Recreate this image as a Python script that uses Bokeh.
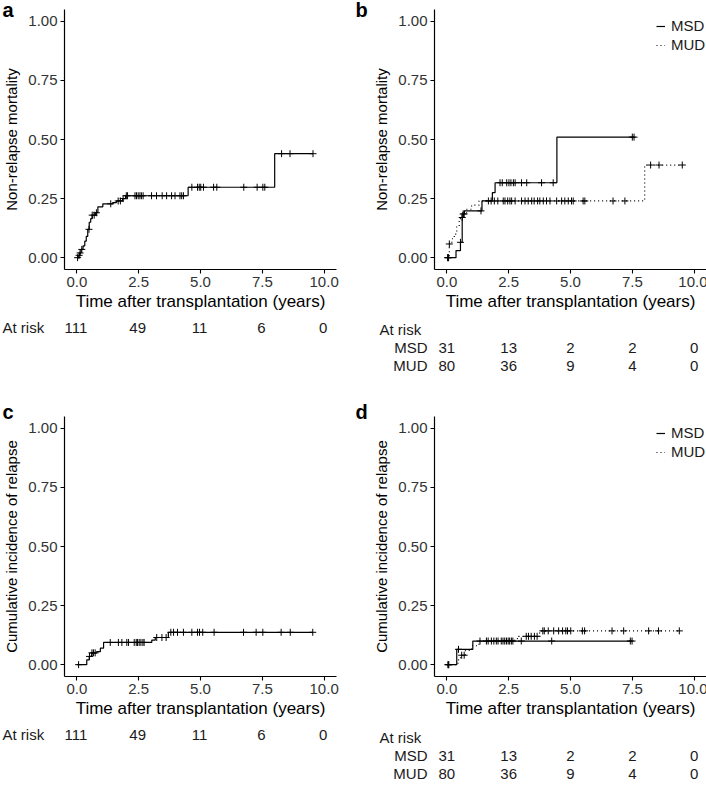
import numpy as np
from bokeh.plotting import figure
from bokeh.models import FixedTicker, PrintfTickFormatter, Title, Range1d, Legend, LegendItem
from bokeh.core.properties import value
from bokeh.layouts import column, row
from bokeh.embed import file_html
from bokeh.resources import INLINE

# ---------------- data ----------------
x_ticks = [0, 2.5, 5, 7.5, 10]
y_ticks = [0, 0.25, 0.5, 0.75, 1.0]
risk_times = [0, 2.5, 5, 7.5, 10]

# Panel a: NRM, all patients
a_t = [0, 0.08, 0.12, 0.17, 0.25, 0.32, 0.38, 0.44, 0.5, 0.56, 0.62, 0.75, 0.85, 1.05, 1.45, 1.6, 1.85, 1.97, 4.5, 8.0, 9.55]
a_y = [0, 0.01, 0.02, 0.035, 0.05, 0.07, 0.09, 0.12, 0.15, 0.165, 0.18, 0.19, 0.215, 0.228, 0.233, 0.24, 0.25, 0.262, 0.298, 0.44, 0.44]
a_cens = [0.03, 0.09, 0.13, 0.2, 0.49, 0.62, 0.7, 0.79, 1.37, 1.67, 1.76, 1.87, 2.0, 2.05, 2.35, 2.41, 2.48, 2.55,
          2.61, 2.68, 3.02, 3.22, 3.45, 3.63, 3.83, 3.97, 4.17, 4.24, 4.31, 4.65, 4.88, 4.95, 5.01, 5.12, 5.53,
          5.66, 6.75, 7.29, 7.52, 7.6, 8.28, 8.62, 9.55]
all_risk = [111, 49, 11, 6, 0]

# Panel b: NRM by donor
b_msd_t = [0, 0.37, 0.55, 0.62, 0.66, 0.71, 1.42, 1.84, 1.95, 4.45, 7.57]
b_msd_y = [0, 0.03, 0.065, 0.17, 0.185, 0.198, 0.24, 0.275, 0.317, 0.51, 0.51]
b_msd_cens = [0.05, 0.55, 0.62, 0.66, 0.7, 1.38, 2.15, 2.24, 2.42, 2.51, 2.59, 2.69, 2.76, 3.02, 3.23, 3.83, 4.3, 7.5, 7.57]
b_mud_t = [0, 0.1, 0.2, 0.3, 0.4, 0.5, 0.6, 0.8, 1.0, 1.3, 8.0, 9.52]
b_mud_y = [0, 0.058, 0.08, 0.1, 0.13, 0.165, 0.19, 0.205, 0.222, 0.24, 0.392, 0.392]
b_mud_cens = [0.03, 0.07, 0.1, 1.68, 1.79, 1.92, 2.06, 2.28, 2.35, 2.46, 2.55, 2.62, 2.76, 3.02, 3.16, 3.29, 3.43,
              3.53, 3.67, 3.76, 3.9, 4.03, 4.17, 4.44, 4.64, 4.77, 4.91, 5.04, 5.11, 5.51, 5.58, 6.72, 7.2, 8.24, 8.58, 9.52]
msd_risk = [31, 13, 2, 2, 0]
mud_risk = [80, 36, 9, 4, 0]

# Panel c: relapse, all patients
c_t = [0, 0.4, 0.5, 0.6, 0.8, 0.95, 1.08, 3.03, 3.17, 3.7, 9.54]
c_y = [0, 0.02, 0.035, 0.05, 0.055, 0.07, 0.094, 0.104, 0.115, 0.137, 0.137]
c_cens = [0.07, 0.51, 0.61, 0.67, 0.74, 1.35, 1.68, 1.82, 2.02, 2.09, 2.32, 2.4, 2.45, 2.52, 2.59, 2.67, 2.72,
          3.23, 3.44, 3.61, 3.8, 3.91, 4.07, 4.31, 4.65, 4.88, 4.96, 5.09, 5.55, 6.74, 7.25, 7.52, 8.26, 8.63, 9.54]

# Panel d: relapse by donor
d_msd_t = [0, 0.4, 1.05, 7.49]
d_msd_y = [0, 0.065, 0.1, 0.1]
d_msd_cens = [0.05, 0.47, 1.34, 1.6, 1.8, 2.0, 2.27, 2.41, 2.54, 2.67, 3.01, 4.24, 7.42, 7.49]
d_mud_t = [0, 0.45, 0.55, 0.75, 1.0, 1.3, 2.75, 2.9, 3.75, 9.4]
d_mud_y = [0, 0.02, 0.04, 0.06, 0.08, 0.1, 0.11, 0.12, 0.143, 0.143]
d_mud_cens = [0.05, 0.08, 0.6, 0.7, 1.67, 1.9, 2.07, 2.2, 2.34, 2.48, 2.61, 3.21, 3.3, 3.41, 3.54, 3.65, 3.88,
              3.94, 4.1, 4.32, 4.52, 4.68, 4.81, 4.88, 5.01, 5.48, 5.57, 6.68, 7.15, 8.16, 8.56, 9.4]

# ---------------- layout constants ----------------
FONT = "Liberation Sans"
FS = "15px"
INK = "#1a1a1a"
FRAME_W, FRAME_H = 272, 260
AXIS_B = 46          # border under the frame for x axis
X0, X1 = -0.5, 10.5
Y0, Y1 = -0.05, 1.05
PXX = FRAME_W / (X1 - X0)


def step_at(ts, ys, t):
    i = np.searchsorted(np.asarray(ts), t, side="right") - 1
    return float(ys[max(i, 0)])


def plot_panel(letter, ylabel, left, top, right, series, standoff):
    p = figure(frame_width=FRAME_W, frame_height=FRAME_H,
               min_border_left=left, min_border_top=top,
               min_border_bottom=AXIS_B, min_border_right=right,
               x_range=Range1d(X0, X1), y_range=Range1d(Y0, Y1),
               output_backend="svg", toolbar_location=None, tools="")
    p.frame_align = False
    p.outline_line_color = None
    p.grid.visible = False
    for ax in (p.xaxis[0], p.yaxis[0]):
        ax.axis_line_color = "black"
        ax.axis_line_width = 1.2
        ax.major_tick_line_color = "black"
        ax.major_tick_line_width = 1.1
        ax.major_tick_out = 4
        ax.major_tick_in = 0
        ax.minor_tick_line_color = None
        ax.major_label_text_font = FONT
        ax.major_label_text_font_size = FS
        ax.major_label_text_color = "#333333"
        ax.axis_label_text_font = FONT
        ax.axis_label_text_font_style = "normal"
        ax.axis_label_text_color = "black"
        ax.major_label_standoff = 3
    p.xaxis.axis_label_text_font_size = "17px"
    p.yaxis.axis_label_text_font_size = FS
    p.xaxis.ticker = FixedTicker(ticks=x_ticks)
    p.yaxis.ticker = FixedTicker(ticks=y_ticks)
    p.xaxis.formatter = PrintfTickFormatter(format="%.1f")
    p.yaxis.formatter = PrintfTickFormatter(format="%.2f")
    p.xaxis.axis_label = "Time after transplantation (years)"
    p.yaxis.axis_label = ylabel
    p.xaxis.axis_label_standoff = 2
    p.yaxis.axis_label_standoff = 5

    items = []
    for name, ts, ys, cens, dash in series:
        r = p.step(ts, ys, mode="after", line_color="black", line_width=1.2, line_dash=dash)
        cy = [step_at(ts, ys, c) for c in cens]
        p.scatter(cens, cy, marker="cross", size=7, line_color="black", line_width=1)
        if name:
            items.append(LegendItem(label=name, renderers=[r]))
    if items:
        lg = Legend(items=items, location=(222, 216))
        lg.background_fill_alpha = 0
        lg.border_line_alpha = 0
        lg.label_text_font = FONT
        lg.label_text_font_size = FS
        lg.label_text_color = INK
        lg.glyph_width = 9
        lg.glyph_height = 16
        lg.label_height = 16
        lg.label_standoff = 6
        lg.spacing = 2
        lg.padding = 0
        lg.margin = 0
        p.add_layout(lg)

    # panel letter as a title in the (thin) top border
    p.add_layout(Title(text=letter, align="left", offset=-(left - 1), standoff=standoff,
                       text_font=FONT, text_font_size="20px", text_font_style="bold",
                       text_color="black"), "above")
    return p


def risk_panel(left, right, height, rows, header_y):
    w = left + FRAME_W + right
    t = figure(width=w, height=height, min_border=0,
               min_border_left=0, min_border_right=0, min_border_top=0, min_border_bottom=0,
               x_range=Range1d(X0 - left / PXX, X1 + right / PXX), y_range=Range1d(height, 0),
               x_axis_location=None, y_axis_location=None,
               output_backend="svg", toolbar_location=None, tools="")
    t.frame_align = False
    t.outline_line_color = None
    t.grid.visible = False
    txt_kw = dict(text_font=value(FONT), text_font_size=value("15px"), text_color=INK, text_baseline="middle")
    if len(rows) == 1:
        yy = header_y
        t.text(x=[X0 - (left - 2) / PXX], y=[yy], text=["At risk"], text_align="left", **txt_kw)
        t.text(x=risk_times, y=[yy] * len(risk_times), text=[str(v) for v in rows[0][1]],
               text_align="center", **txt_kw)
    else:
        t.text(x=[X0 - 55 / PXX], y=[header_y], text=["At risk"], text_align="left", **txt_kw)
        for k, (lab, vals) in enumerate(rows):
            yy = header_y + 18 * (k + 1)
            t.text(x=[X0 - 7 / PXX], y=[yy], text=[lab], text_align="right", **txt_kw)
            t.text(x=risk_times, y=[yy] * len(risk_times), text=[str(v) for v in vals],
                   text_align="center", **txt_kw)
    return t


TOP1, TOP2 = 9, 36
ROW1_H, ROW2_H = 380, 408
tab1_h = ROW1_H - (TOP1 + FRAME_H + AXIS_B)
tab2_h = ROW2_H - (TOP2 + FRAME_H + AXIS_B)

pa = plot_panel("a", "Non-relapse mortality", 63, TOP1, 18, [(None, a_t, a_y, a_cens, "solid")], -22)
ta = risk_panel(63, 18, tab1_h, [("", all_risk)], 12)
pb = plot_panel("b", "Non-relapse mortality", 80, TOP1, 1,
                [("MSD", b_msd_t, b_msd_y, b_msd_cens, "solid"),
                 ("MUD", b_mud_t, b_mud_y, b_mud_cens, "1 3")], -22)
tb = risk_panel(80, 1, tab1_h, [("MSD", msd_risk), ("MUD", mud_risk)], 14)
pc = plot_panel("c", "Cumulative incidence of relapse", 63, TOP2, 18, [(None, c_t, c_y, c_cens, "solid")], -12)
tc = risk_panel(63, 18, tab2_h, [("", all_risk)], 12)
pd_ = plot_panel("d", "Cumulative incidence of relapse", 80, TOP2, 1,
                 [("MSD", d_msd_t, d_msd_y, d_msd_cens, "solid"),
                  ("MUD", d_mud_t, d_mud_y, d_mud_cens, "1 3")], -12)
td = risk_panel(80, 1, tab2_h, [("MSD", msd_risk), ("MUD", mud_risk)], 15)

layout = column(row(column(pa, ta), column(pb, tb)), row(column(pc, tc), column(pd_, td)))
open("out.html", "w").write(file_html(layout, INLINE))
